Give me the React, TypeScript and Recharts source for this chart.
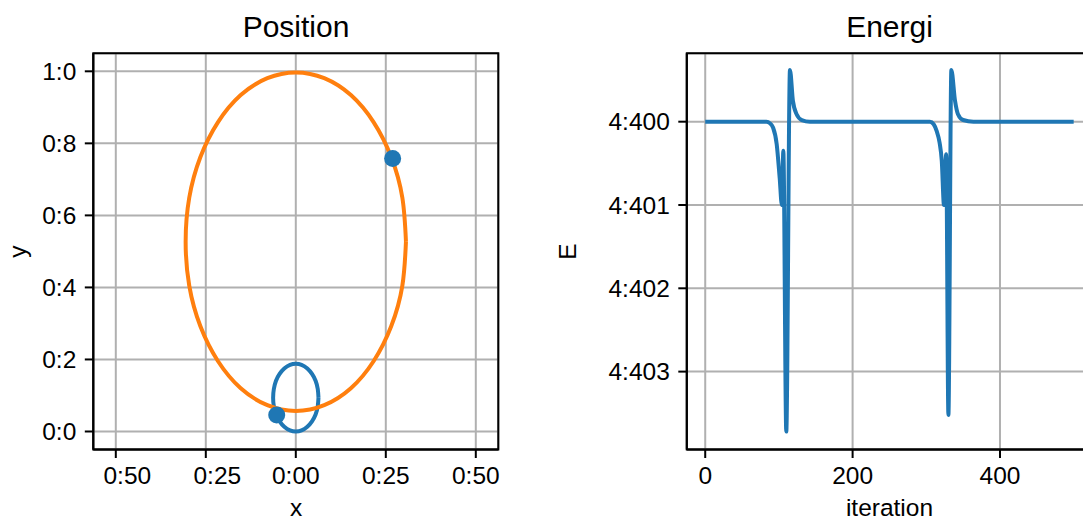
import { ComposedChart, LineChart, Line, Scatter, XAxis, YAxis, CartesianGrid, ReferenceArea } from "recharts";

// orbit of the heavy body (blue) and the light body (orange)
const blueX = [0.063, 0.061, 0.055, 0.045, 0.032, 0.016, 0, -0.016, -0.032, -0.045, -0.055, -0.061, -0.063, -0.061, -0.055, -0.045, -0.032, -0.016, 0, 0.016, 0.032, 0.045, 0.055, 0.061, 0.063];
const blueY = [0.094, 0.118, 0.141, 0.16, 0.175, 0.185, 0.188, 0.185, 0.175, 0.16, 0.141, 0.118, 0.094, 0.07, 0.047, 0.028, 0.013, 0.003, 0, 0.003, 0.013, 0.028, 0.047, 0.07, 0.094];
const orangeX = [0.306, 0.296, 0.265, 0.216, 0.153, 0.079, 0, -0.079, -0.153, -0.216, -0.265, -0.296, -0.306, -0.296, -0.265, -0.216, -0.153, -0.079, 0, 0.079, 0.153, 0.216, 0.265, 0.296, 0.306];
const orangeY = [0.527, 0.649, 0.762, 0.859, 0.934, 0.981, 0.997, 0.981, 0.934, 0.859, 0.762, 0.649, 0.527, 0.405, 0.292, 0.195, 0.12, 0.073, 0.057, 0.073, 0.12, 0.195, 0.292, 0.405, 0.527];
// current positions
const bodyX = [-0.053, 0.269];
const bodyY = [0.046, 0.758];

const posXTicks = [-0.5, -0.25, 0, 0.25, 0.5];
const posXLabels = ["0:50", "0:25", "0:00", "0:25", "0:50"];
const posYTicks = [0, 0.2, 0.4, 0.6, 0.8, 1.0];
const posYLabels = ["0:0", "0:2", "0:4", "0:6", "0:8", "1:0"];

// energy per iteration
const iterations = [0, 83, 88, 92, 97, 101, 104, 106, 110, 115, 119, 124, 131, 142, 305, 310, 314, 318, 321, 324, 327, 330, 334, 339, 343, 350, 364, 500];
const energy = [-4.4, -4.4, -4.40002, -4.40007, -4.40027, -4.40067, -4.401, -4.40035, -4.40372, -4.39938, -4.39975, -4.39991, -4.39998, -4.4, -4.4, -4.40003, -4.40011, -4.40025, -4.40047, -4.401, -4.40039, -4.40352, -4.39938, -4.39975, -4.39991, -4.39998, -4.4, -4.4];

const eXTicks = [0, 200, 400];
const eXLabels = ["0", "200", "400"];
const eYTicks = [-4.4, -4.401, -4.402, -4.403];
const eYLabels = ["4:400", "4:401", "4:402", "4:403"];

const blueOrbit = blueX.map((x, i) => ({ x, y: blueY[i] }));
const orangeOrbit = orangeX.map((x, i) => ({ x, y: orangeY[i] }));
const bodies = bodyX.map((x, i) => ({ x, y: bodyY[i] }));
const energyData = iterations.map((it, i) => ({ it, e: energy[i] }));

const FONT = "'Liberation Sans', Arial, sans-serif";
const BLUE = "#1f77b4";
const ORANGE = "#ff7f0e";
const tickStyle = { fontSize: 24.5, fill: "#000", fontFamily: FONT };
const axisStroke = { stroke: "#000", strokeWidth: 2 };

const labelFor = (ticks: number[], labels: string[]) => (v: number) => {
  let best = 0;
  ticks.forEach((t, i) => {
    if (Math.abs(t - v) < Math.abs(ticks[best] - v)) best = i;
  });
  return labels[best];
};

// negative labels sit a bit right of their tick (the minus sign is drawn blank)
const posXLabel = labelFor(posXTicks, posXLabels);
function PosXTick(props: any) {
  const { x, y, payload } = props;
  const shift = payload.value < 0 ? 11.5 : 0;
  return (
    <text x={x + shift} y={y} dy="0.71em" textAnchor="middle" fontSize={24.5} fontFamily={FONT} fill="#000">
      {posXLabel(payload.value)}
    </text>
  );
}

// box around the plot area (matplotlib spines)
function frame(xDomain: number[], yDomain: number[]) {
  return (
    <ReferenceArea x1={xDomain[0]} x2={xDomain[1]} y1={yDomain[0]} y2={yDomain[1]} fill="none" fillOpacity={0} stroke="#000" strokeWidth={2} strokeOpacity={1} ifOverflow="visible" />
  );
}

export default function App() {
  const posXDomain = [-0.5625, 0.5625];
  const posYDomain = [-0.05, 1.05];
  const eXDomain = [-25, 525];
  const eYDomain = [-4.403935, -4.399179];

  return (
    <div style={{ position: "fixed", left: 0, top: 0, width: 1083, height: 526, overflow: "hidden", background: "#fff" }}>
      <div style={{ position: "absolute", left: 0, top: 0 }}>
        <ComposedChart width={520} height={526} margin={{ top: 53.3, right: 21.7, bottom: 0, left: 0 }}>
          <CartesianGrid stroke="#b0b0b0" strokeWidth={2} />
          <XAxis type="number" dataKey="x" domain={posXDomain} allowDataOverflow ticks={posXTicks} height={76.5} tickSize={8.5} tickMargin={8.5} tick={<PosXTick />} tickLine={axisStroke} axisLine={axisStroke} interval={0} />
          <YAxis type="number" domain={posYDomain} allowDataOverflow ticks={posYTicks} tickFormatter={labelFor(posYTicks, posYLabels)} width={93.3} tickSize={8.5} tickMargin={8.5} tick={tickStyle} tickLine={axisStroke} axisLine={axisStroke} interval={0} />
          <Line data={blueOrbit} dataKey="y" type="natural" stroke={BLUE} strokeWidth={4} dot={false} isAnimationActive={false} />
          <Scatter data={bodies} dataKey="y" fill={BLUE} isAnimationActive={false} shape={(p: any) => <circle cx={p.cx} cy={p.cy} r={8.5} fill={BLUE} />} />
          <Line data={orangeOrbit} dataKey="y" type="natural" stroke={ORANGE} strokeWidth={4} dot={false} isAnimationActive={false} />
          {frame(posXDomain, posYDomain)}
        </ComposedChart>
      </div>
      <div style={{ position: "absolute", left: 550, top: 0 }}>
        <LineChart width={560} height={526} data={energyData} margin={{ top: 53.3, right: 17.9, bottom: 0, left: 0 }}>
          <CartesianGrid stroke="#b0b0b0" strokeWidth={2} />
          <XAxis type="number" dataKey="it" domain={eXDomain} allowDataOverflow ticks={eXTicks} tickFormatter={labelFor(eXTicks, eXLabels)} height={76.5} tickSize={8.5} tickMargin={8.5} tick={tickStyle} tickLine={axisStroke} axisLine={axisStroke} interval={0} />
          <YAxis type="number" domain={eYDomain} allowDataOverflow ticks={eYTicks} tickFormatter={labelFor(eYTicks, eYLabels)} width={136.8} tickSize={8.5} tickMargin={8.5} tick={tickStyle} tickLine={axisStroke} axisLine={axisStroke} interval={0} />
          <Line dataKey="e" type="monotone" stroke={BLUE} strokeWidth={4} dot={false} isAnimationActive={false} />
          {frame(eXDomain, eYDomain)}
        </LineChart>
      </div>
      <svg width={1083} height={526} style={{ position: "absolute", left: 0, top: 0, pointerEvents: "none" }} fontFamily={FONT} fill="#000">
        <text x={296} y={36.5} fontSize={30} textAnchor="middle">Position</text>
        <text x={889.5} y={36.5} fontSize={30} textAnchor="middle">Energi</text>
        <text x={296} y={516} fontSize={24.5} textAnchor="middle">x</text>
        <text x={889.5} y={516} fontSize={24.5} textAnchor="middle">iteration</text>
        <text x={25.5} y={251.5} fontSize={24.5} textAnchor="middle" transform="rotate(-90 25.5 251.5)">y</text>
        <text x={576} y={251.5} fontSize={24.5} textAnchor="middle" transform="rotate(-90 576 251.5)">E</text>
      </svg>
    </div>
  );
}
